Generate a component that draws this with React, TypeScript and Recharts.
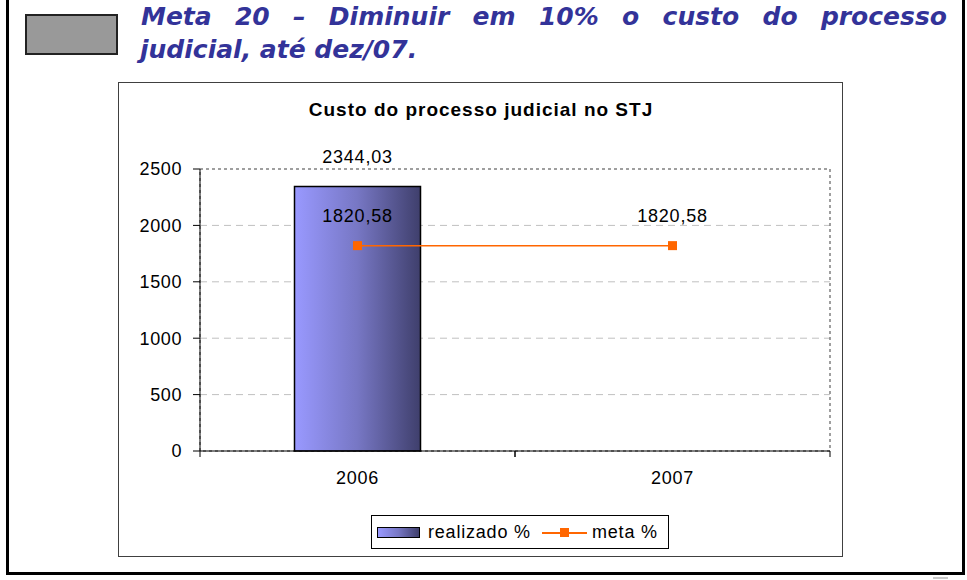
import {
  ComposedChart,
  Bar,
  Line,
  XAxis,
  YAxis,
  CartesianGrid,
  ReferenceArea,
  LabelList,
} from 'recharts'

// chart values
const years = ['2006', '2007']
const realizado = [2344.03, null]
const meta = [1820.58, 1820.58]
const yTicks = [0, 500, 1000, 1500, 2000, 2500]

const data = years.map((year, i) => ({
  year,
  realizado: realizado[i],
  meta: meta[i],
}))

const FONT = '"Liberation Sans", Arial, sans-serif'
const fmt = (v: number) => v.toFixed(2).replace('.', ',')

const XTick = (props: any) => {
  const { x, y, payload } = props
  const off = payload?.offset || 157.5
  return (
    <g>
      <line x1={x - off} y1={y} x2={x - off} y2={y + 6} stroke="#000" />
      <line x1={x + off} y1={y} x2={x + off} y2={y + 6} stroke="#000" />
      <text
        x={x}
        y={y + 27}
        textAnchor="middle"
        dominantBaseline="central"
        fontFamily={FONT}
        fontSize={18}
        letterSpacing={0.8}
        fill="#000"
      >
        {payload.value}
      </text>
    </g>
  )
}

const SquareDot = (props: any) => {
  const { cx, cy } = props
  if (cx == null || cy == null) return null
  return <rect x={cx - 4.5} y={cy - 4.5} width={9} height={9} fill="#ff6600" />
}

const ValueLabel = (props: any) => {
  const { x, y, width, value } = props
  if (value == null) return null
  const cx = width != null ? x + width / 2 : x
  return (
    <text
      x={cx}
      y={y - 30}
      textAnchor="middle"
      dominantBaseline="central"
      fontFamily={FONT}
      fontSize={18}
      letterSpacing={0.8}
      fill="#000"
    >
      {fmt(value)}
    </text>
  )
}

const headingStyle: React.CSSProperties = {
  position: 'absolute',
  fontFamily: '"DejaVu Sans", Verdana, sans-serif',
  fontWeight: 'bold',
  fontStyle: 'italic',
  fontSize: 25,
  lineHeight: '33px',
  color: '#333399',
  whiteSpace: 'nowrap',
}

export default function App() {
  return (
    <div
      style={{
        position: 'absolute',
        left: 0,
        top: 0,
        width: 967,
        height: 580,
        background: '#fff',
        overflow: 'hidden',
      }}
    >
      {/* outer frame */}
      <div
        style={{
          position: 'absolute',
          left: 6,
          top: -3,
          width: 953,
          height: 572,
          border: '3px solid #000',
        }}
      />
      <div
        style={{
          position: 'absolute',
          left: 933,
          top: 577,
          width: 15,
          height: 2,
          background: '#c8c8c8',
        }}
      />
      {/* gray marker box */}
      <div
        style={{
          position: 'absolute',
          left: 25,
          top: 14,
          width: 89,
          height: 37,
          background: '#999999',
          border: '2px solid #222',
        }}
      />
      {/* heading, first line justified */}
      <div
        style={{
          ...headingStyle,
          left: 141,
          top: 0,
          width: 806,
          whiteSpace: 'normal',
          textAlign: 'justify',
          textAlignLast: 'justify',
        }}
      >
        Meta 20 – Diminuir em 10% o custo do processo
      </div>
      <div style={{ ...headingStyle, left: 140, top: 33 }}>
        judicial, até dez/07.
      </div>

      {/* chart box */}
      <div
        style={{
          position: 'absolute',
          left: 118,
          top: 82,
          width: 723,
          height: 473,
          border: '1px solid #404040',
        }}
      />
      <div
        style={{
          position: 'absolute',
          left: 118,
          top: 99,
          width: 725,
          textAlign: 'center',
          fontFamily: FONT,
          fontWeight: 'bold',
          fontSize: 19,
          letterSpacing: 1,
          color: '#000',
        }}
      >
        <span style={{ marginLeft: 1 }}>Custo do processo judicial no STJ</span>
      </div>
      <div style={{ position: 'absolute', left: 118, top: 82 }}>
        <ComposedChart
          width={725}
          height={475}
          data={data}
          margin={{ top: 87, right: 13, left: 0, bottom: 0 }}
          barCategoryGap="30%"
        >
          <defs>
            <linearGradient id="barGrad" x1="0" y1="0" x2="1" y2="0">
              <stop offset="0%" stopColor="#9999ff" />
              <stop offset="50%" stopColor="#7777c4" />
              <stop offset="100%" stopColor="#3f3f6c" />
            </linearGradient>
          </defs>
          <CartesianGrid
            vertical={false}
            horizontalValues={[500, 1000, 1500, 2000]}
            stroke="#c0c0c0"
            strokeDasharray="7 5"
          />
          <ReferenceArea
            y1={0}
            y2={2500}
            fill="none"
            stroke="#808080"
            strokeWidth={1.5}
            strokeDasharray="3 3"
            ifOverflow="visible"
          />
          <XAxis
            dataKey="year"
            height={106}
            tickLine={false}
            tickSize={0}
            tickMargin={0}
            axisLine={{ stroke: '#000' }}
            tick={<XTick />}
          />
          <YAxis
            width={82}
            domain={[0, 2500]}
            ticks={yTicks}
            tickSize={7}
            tickMargin={11}
            axisLine={{ stroke: '#000' }}
            tickLine={{ stroke: '#000' }}
            tick={{
              fill: '#000',
              fontSize: 18,
              fontFamily: FONT,
              letterSpacing: 0.6,
            }}
          />
          <Bar
            dataKey="realizado"
            fill="url(#barGrad)"
            stroke="#000"
            strokeWidth={1.5}
            isAnimationActive={false}
          >
            <LabelList dataKey="realizado" content={<ValueLabel />} />
          </Bar>
          <Line
            dataKey="meta"
            stroke="#ff6600"
            strokeWidth={1.5}
            dot={<SquareDot />}
            activeDot={false}
            isAnimationActive={false}
          >
            <LabelList dataKey="meta" content={<ValueLabel />} />
          </Line>
        </ComposedChart>
      </div>

      {/* legend */}
      <div
        style={{
          position: 'absolute',
          left: 371,
          top: 515,
          width: 296,
          height: 32,
          border: '1px solid #000',
          background: '#fff',
          fontFamily: FONT,
          fontSize: 18,
          letterSpacing: 0.8,
        }}
      >
        <div
          style={{
            position: 'absolute',
            left: 5,
            top: 11,
            width: 41,
            height: 9,
            border: '1px solid #000',
            background: 'linear-gradient(to right, #9999ff, #7777c4, #3f3f6c)',
          }}
        />
        <div style={{ position: 'absolute', left: 56, top: 5, lineHeight: '22px' }}>
          realizado %
        </div>
        <div
          style={{
            position: 'absolute',
            left: 170,
            top: 16,
            width: 45,
            height: 2,
            background: '#ff6600',
          }}
        />
        <div
          style={{
            position: 'absolute',
            left: 188,
            top: 12,
            width: 9,
            height: 9,
            background: '#ff6600',
          }}
        />
        <div style={{ position: 'absolute', left: 220, top: 5, lineHeight: '22px' }}>
          meta %
        </div>
      </div>
    </div>
  )
}
